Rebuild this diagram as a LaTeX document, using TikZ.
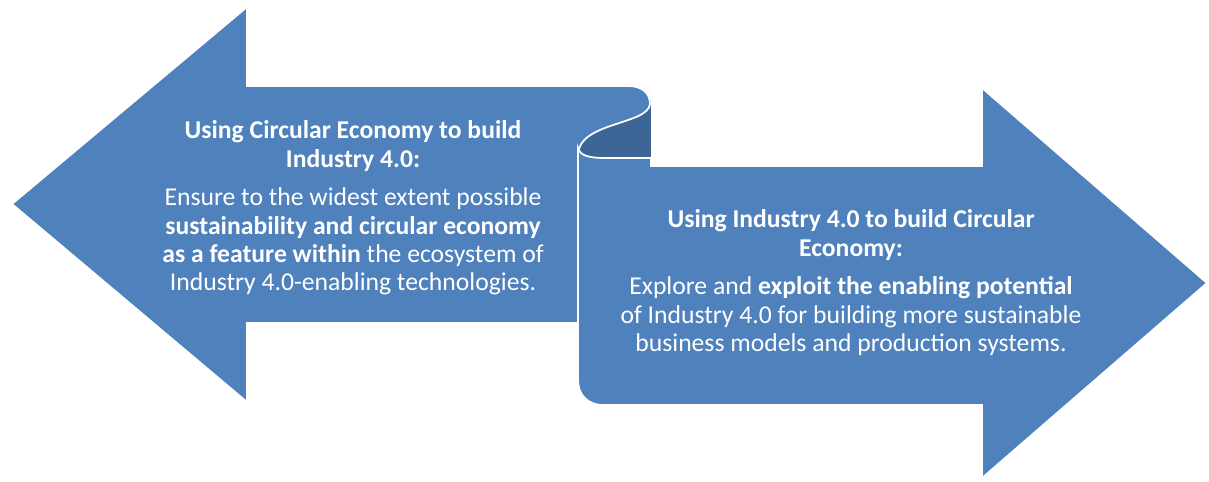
\documentclass[tikz,border=0pt]{standalone}
\usepackage{fontspec}
\setmainfont{Carlito}
\usetikzlibrary{positioning}
\definecolor{ArrowBlue}{HTML}{4F81BD}
\definecolor{FoldBlue}{HTML}{3D6595}
\tikzset{
  arrowbody/.style={fill=ArrowBlue, draw=white, line width=1pt},
  foldbody/.style={fill=FoldBlue},
  headtext/.style={text=white, align=center, inner sep=0pt,
    font=\bfseries\fontsize{14.6}{16.2}\selectfont},
  bodytext/.style={text=white, align=center, inner sep=0pt,
    font=\fontsize{14.6}{16.2}\selectfont},
}
\begin{document}
\begin{tikzpicture}[x=0.02cm, y=-0.02cm]
  \useasboundingbox (0,0) rectangle (1209,482);
  % inner side of the fold
  \fill[foldbody] (578,100) rectangle (651,159);
  % left arrow, its shaft rolls over at the right end
  \draw[arrowbody] (12,204) -- (247,7) -- (247,86) -- (628,86)
     .. controls (642,86) and (650,93) .. (650,104)
     .. controls (648,125) and (578,122) .. (578,155)
     -- (578,323) -- (247,323) -- (247,402) -- cycle;
  % right arrow
  \draw[arrowbody] (578,148) .. controls (580,156) and (590,158) .. (605,158)
     -- (651,158) -- (651,166) -- (982,166) -- (982,88) -- (1207,283)
     -- (982,478) -- (982,405) -- (603,405)
     .. controls (588,405) and (578,395) .. (578,380) -- cycle;
  % texts
  \node[headtext] (lefthead) at (353,146)
    {Using Circular Economy to build\\Industry 4.0:};
  \node[bodytext, below=9pt of lefthead] (leftbody)
    {Ensure to the widest extent possible\\
     \textbf{sustainability and circular economy}\\
     \textbf{as a feature within} the ecosystem of\\
     Industry 4.0-enabling technologies.};
  \node[headtext] (righthead) at (851,235)
    {Using Industry 4.0 to build Circular\\Economy:};
  \node[bodytext, below=9pt of righthead] (rightbody)
    {Explore and \textbf{exploit the enabling potential}\\
     of Industry 4.0 for building more sustainable\\
     business models and production systems.};
\end{tikzpicture}
\end{document}
